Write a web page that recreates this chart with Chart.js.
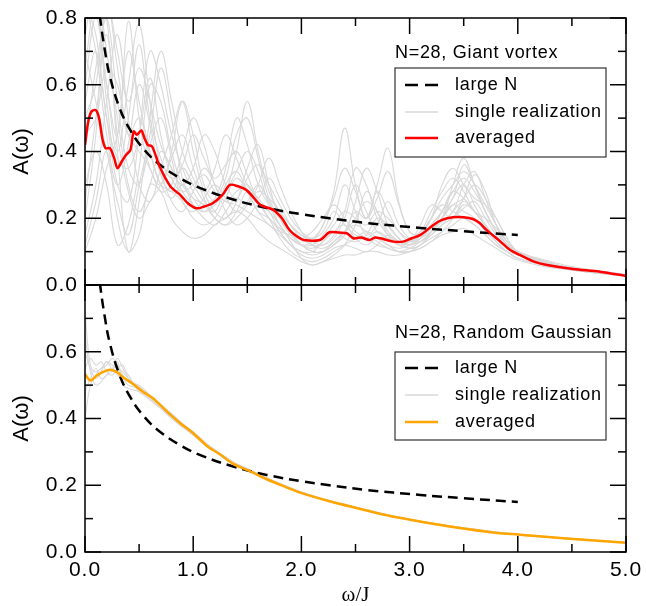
<!DOCTYPE html>
<html>
<head>
<meta charset="utf-8">
<script src="https://cdn.jsdelivr.net/npm/chart.js@4/dist/chart.umd.min.js"></script>
<style>
  html, body { margin: 0; padding: 0; background: #fff; }
  #wrap { position: relative; width: 646px; height: 606px; }
  canvas { position: absolute; left: 0; }
</style>
</head>
<body>
<div id="wrap">
  <canvas id="topChart" width="646" height="300" style="top:0"></canvas>
  <canvas id="bottomChart" width="646" height="326" style="top:280px"></canvas>
</div>
<script>
// ---- data ----
const xTicks = [0, 1, 2, 3, 4, 5]
const yTicks = [0, 0.2, 0.4, 0.6, 0.8]

// large N (same curve in both panels)
const largeNOmega = [0.10, 0.12, 0.14, 0.18, 0.23, 0.32, 0.42, 0.54, 0.69, 0.88, 1.06, 1.37, 1.68, 2.0, 2.26, 2.6, 3.1, 3.5, 4.0]
const largeNA =     [0.95, 0.866, 0.80, 0.71, 0.625, 0.53, 0.463, 0.408, 0.361, 0.32, 0.291, 0.256, 0.231, 0.212, 0.20, 0.186, 0.171, 0.161, 0.15]

// top panel: averaged (red)
const vortexAvgOmega = [0.00, 0.03, 0.06, 0.10, 0.13, 0.16, 0.19, 0.23, 0.27, 0.30, 0.34, 0.38, 0.42, 0.45, 0.48, 0.52, 0.55, 0.58, 0.62, 0.69, 0.79, 0.88, 0.95, 1.03, 1.10, 1.18, 1.27, 1.34, 1.42, 1.49, 1.55, 1.62, 1.74, 1.82, 1.89, 1.96, 2.02, 2.17, 2.26, 2.35, 2.42, 2.48, 2.55, 2.63, 2.68, 2.73, 2.85, 2.94, 3.02, 3.10, 3.22, 3.30, 3.40, 3.50, 3.59, 3.65, 3.71, 3.84, 3.93, 4.02, 4.15, 4.27, 4.51, 4.76, 5.00]
const vortexAvgA =     [0.42, 0.49, 0.52, 0.524, 0.50, 0.44, 0.41, 0.41, 0.38, 0.35, 0.37, 0.39, 0.405, 0.46, 0.45, 0.463, 0.44, 0.42, 0.415, 0.355, 0.295, 0.27, 0.245, 0.23, 0.235, 0.245, 0.27, 0.30, 0.295, 0.285, 0.265, 0.24, 0.225, 0.20, 0.165, 0.145, 0.135, 0.135, 0.158, 0.157, 0.155, 0.14, 0.142, 0.135, 0.142, 0.14, 0.13, 0.13, 0.14, 0.15, 0.18, 0.195, 0.203, 0.203, 0.197, 0.185, 0.165, 0.13, 0.105, 0.09, 0.07, 0.06, 0.048, 0.04, 0.027]

// top panel: single realizations (grey)
const vortexOmega = [0.0, 0.1, 0.2, 0.3, 0.4, 0.5, 0.6, 0.7, 0.8, 0.9, 1.0, 1.1, 1.2, 1.3, 1.4, 1.5, 1.6, 1.7, 1.8, 1.9, 2.0, 2.1, 2.2, 2.3, 2.4, 2.5, 2.6, 2.7, 2.8, 2.9, 3.0, 3.1, 3.2, 3.3, 3.4, 3.5, 3.6, 3.7, 3.8, 3.9, 4.0, 4.25, 4.5, 4.75, 5.0]
const vortexRuns = [
  [0.85,0.70,0.45,0.30,0.42,0.60,0.48,0.33,0.28,0.35,0.30,0.25,0.22,0.30,0.34,0.28,0.22,0.20,0.16,0.12,0.10,0.10,0.13,0.16,0.18,0.14,0.12,0.14,0.12,0.11,0.12,0.15,0.20,0.24,0.22,0.20,0.18,0.15,0.12,0.10,0.09,0.065,0.05,0.04,0.03],
  [0.40,0.65,0.80,0.55,0.35,0.30,0.42,0.50,0.38,0.25,0.22,0.26,0.30,0.26,0.22,0.25,0.30,0.25,0.18,0.14,0.12,0.12,0.15,0.20,0.30,0.22,0.15,0.18,0.25,0.18,0.14,0.13,0.16,0.20,0.26,0.30,0.24,0.18,0.13,0.10,0.08,0.06,0.05,0.04,0.03],
  [0.15,0.30,0.55,0.75,0.50,0.30,0.25,0.35,0.45,0.55,0.40,0.28,0.22,0.20,0.25,0.35,0.42,0.30,0.20,0.15,0.12,0.10,0.10,0.12,0.15,0.25,0.35,0.28,0.18,0.14,0.12,0.14,0.18,0.22,0.28,0.32,0.28,0.22,0.16,0.12,0.10,0.07,0.05,0.04,0.03],
  [0.60,0.80,0.60,0.40,0.60,0.78,0.55,0.35,0.25,0.22,0.28,0.35,0.30,0.22,0.18,0.20,0.24,0.22,0.16,0.12,0.09,0.08,0.09,0.11,0.12,0.11,0.10,0.12,0.15,0.13,0.11,0.12,0.15,0.18,0.20,0.23,0.25,0.20,0.15,0.11,0.09,0.06,0.045,0.035,0.028],
  [0.80,0.90,0.70,0.50,0.30,0.22,0.30,0.40,0.35,0.28,0.24,0.22,0.25,0.32,0.45,0.50,0.38,0.26,0.20,0.16,0.14,0.13,0.14,0.18,0.22,0.20,0.18,0.22,0.20,0.16,0.14,0.16,0.22,0.28,0.32,0.28,0.22,0.18,0.14,0.11,0.09,0.065,0.05,0.04,0.03],
  [0.30,0.40,0.30,0.12,0.18,0.35,0.60,0.55,0.40,0.30,0.26,0.24,0.20,0.18,0.22,0.28,0.25,0.20,0.14,0.10,0.08,0.07,0.08,0.10,0.12,0.14,0.16,0.14,0.12,0.10,0.10,0.12,0.14,0.16,0.18,0.20,0.18,0.15,0.12,0.10,0.08,0.06,0.045,0.035,0.027],
  [0.50,0.60,0.85,0.65,0.45,0.40,0.35,0.28,0.30,0.40,0.50,0.42,0.30,0.25,0.28,0.30,0.26,0.32,0.26,0.20,0.16,0.14,0.16,0.22,0.18,0.15,0.14,0.16,0.14,0.12,0.13,0.18,0.24,0.22,0.20,0.24,0.22,0.18,0.14,0.12,0.10,0.07,0.05,0.04,0.03],
  [0.10,0.20,0.35,0.45,0.70,0.55,0.40,0.30,0.28,0.25,0.20,0.18,0.20,0.26,0.32,0.28,0.22,0.18,0.16,0.15,0.14,0.16,0.20,0.24,0.20,0.16,0.14,0.12,0.11,0.10,0.11,0.13,0.16,0.20,0.24,0.26,0.30,0.26,0.20,0.14,0.10,0.07,0.05,0.04,0.03],
  [0.70,0.55,0.40,0.25,0.15,0.30,0.45,0.65,0.50,0.32,0.24,0.20,0.18,0.22,0.26,0.24,0.30,0.38,0.30,0.22,0.16,0.12,0.11,0.13,0.16,0.20,0.25,0.22,0.16,0.13,0.12,0.13,0.15,0.18,0.22,0.25,0.22,0.18,0.14,0.11,0.09,0.07,0.05,0.04,0.03],
  [0.85,0.75,0.50,0.38,0.35,0.45,0.62,0.45,0.32,0.28,0.30,0.33,0.28,0.25,0.24,0.22,0.20,0.18,0.15,0.12,0.10,0.09,0.10,0.13,0.16,0.18,0.16,0.13,0.11,0.10,0.10,0.11,0.13,0.16,0.20,0.26,0.33,0.28,0.18,0.12,0.10,0.07,0.05,0.04,0.03],
  [0.45,0.50,0.65,0.60,0.45,0.50,0.40,0.30,0.26,0.30,0.26,0.22,0.24,0.28,0.34,0.40,0.34,0.24,0.18,0.14,0.12,0.11,0.13,0.16,0.14,0.13,0.15,0.20,0.18,0.14,0.12,0.14,0.17,0.20,0.24,0.22,0.20,0.16,0.13,0.10,0.08,0.06,0.045,0.035,0.028],
  [0.25,0.50,0.75,0.45,0.28,0.20,0.25,0.30,0.38,0.45,0.35,0.26,0.20,0.18,0.20,0.24,0.28,0.26,0.22,0.18,0.15,0.13,0.12,0.14,0.20,0.30,0.22,0.16,0.14,0.13,0.14,0.16,0.20,0.26,0.30,0.34,0.30,0.22,0.16,0.12,0.09,0.065,0.05,0.04,0.03],
  [0.12,0.25,0.40,0.20,0.10,0.15,0.30,0.28,0.20,0.16,0.14,0.15,0.18,0.20,0.22,0.20,0.16,0.13,0.11,0.09,0.07,0.06,0.07,0.08,0.09,0.09,0.10,0.10,0.09,0.09,0.10,0.11,0.13,0.15,0.16,0.17,0.15,0.13,0.11,0.09,0.075,0.055,0.045,0.035,0.027],
  [0.65,0.85,0.55,0.35,0.50,0.72,0.50,0.38,0.32,0.36,0.45,0.38,0.32,0.36,0.40,0.33,0.25,0.20,0.17,0.14,0.12,0.13,0.18,0.26,0.35,0.28,0.20,0.26,0.34,0.24,0.16,0.15,0.18,0.22,0.26,0.36,0.30,0.24,0.18,0.13,0.10,0.075,0.055,0.042,0.032],
  [0.90,0.85,0.60,0.45,0.79,0.50,0.35,0.30,0.40,0.55,0.45,0.30,0.25,0.28,0.40,0.55,0.40,0.28,0.22,0.18,0.15,0.14,0.18,0.28,0.47,0.30,0.20,0.30,0.41,0.25,0.16,0.15,0.17,0.20,0.30,0.38,0.30,0.22,0.16,0.12,0.09,0.07,0.05,0.04,0.03],
  [0.75,0.90,0.80,0.40,0.10,0.25,0.50,0.70,0.55,0.40,0.32,0.28,0.35,0.45,0.38,0.30,0.26,0.22,0.18,0.13,0.08,0.06,0.07,0.09,0.12,0.18,0.28,0.22,0.15,0.12,0.11,0.12,0.16,0.22,0.28,0.26,0.22,0.20,0.17,0.13,0.10,0.07,0.05,0.04,0.03],
  [0.20,0.45,0.85,0.70,0.55,0.65,0.55,0.42,0.35,0.30,0.35,0.45,0.40,0.30,0.26,0.32,0.36,0.30,0.24,0.18,0.14,0.12,0.12,0.15,0.22,0.35,0.30,0.20,0.15,0.13,0.13,0.15,0.20,0.30,0.35,0.30,0.26,0.24,0.20,0.14,0.10,0.07,0.05,0.04,0.03],
  [0.55,0.70,0.50,0.30,0.25,0.45,0.70,0.60,0.45,0.35,0.28,0.24,0.26,0.35,0.50,0.42,0.30,0.24,0.20,0.16,0.12,0.10,0.10,0.12,0.16,0.22,0.20,0.28,0.22,0.16,0.13,0.14,0.16,0.19,0.22,0.30,0.34,0.26,0.18,0.13,0.10,0.07,0.05,0.04,0.03]
]

// bottom panel: averaged (orange)
const gaussAvgOmega = [0.00, 0.05, 0.11, 0.17, 0.23, 0.30, 0.35, 0.44, 0.54, 0.63, 0.76, 0.88, 1.00, 1.13, 1.25, 1.37, 1.52, 1.68, 1.83, 1.99, 2.26, 2.48, 2.79, 3.00, 3.40, 3.81, 4.02, 4.48, 5.00]
const gaussAvgA =     [0.533, 0.514, 0.529, 0.54, 0.546, 0.538, 0.524, 0.504, 0.479, 0.46, 0.42, 0.386, 0.356, 0.317, 0.292, 0.264, 0.243, 0.218, 0.198, 0.178, 0.152, 0.134, 0.11, 0.097, 0.075, 0.057, 0.052, 0.04, 0.028]

// bottom panel: single realizations (grey)
const gaussOmega = [0, 0.05, 0.1, 0.15, 0.2, 0.25, 0.3, 0.35, 0.4, 0.5, 0.6, 0.8, 1.0, 1.25, 1.5, 2, 2.5, 3, 3.5, 4, 4.5, 5]
const gaussRuns = [
  [0.72,0.56,0.54,0.55,0.57,0.56,0.55,0.54,0.52,0.49,0.47,0.41,0.36,0.29,0.245,0.178,0.133,0.097,0.072,0.052,0.04,0.028],
  [0.40,0.50,0.53,0.55,0.56,0.58,0.56,0.53,0.51,0.50,0.47,0.415,0.355,0.295,0.247,0.18,0.134,0.098,0.072,0.052,0.04,0.028],
  [0.60,0.55,0.52,0.54,0.57,0.55,0.58,0.55,0.53,0.48,0.46,0.40,0.35,0.29,0.243,0.176,0.132,0.096,0.071,0.051,0.04,0.028],
  [0.48,0.52,0.55,0.52,0.53,0.55,0.53,0.52,0.50,0.49,0.47,0.405,0.36,0.29,0.25,0.18,0.135,0.097,0.073,0.053,0.04,0.028],
  [0.55,0.58,0.56,0.57,0.54,0.53,0.55,0.56,0.52,0.495,0.465,0.41,0.357,0.293,0.246,0.177,0.133,0.097,0.072,0.052,0.04,0.028],
  [0.65,0.54,0.50,0.51,0.53,0.54,0.57,0.50,0.49,0.48,0.455,0.405,0.352,0.29,0.244,0.178,0.134,0.098,0.072,0.052,0.04,0.028]
]

// ---- helpers ----
const pts = (xs, ys) => xs.map((x, i) => ({ x, y: ys[i] }))
const GREY = '#d9d9d9'
const FONT = "'Liberation Sans', Arial, sans-serif"

function line(ctx, x1, y1, x2, y2) {
  ctx.beginPath(); ctx.moveTo(x1, y1); ctx.lineTo(x2, y2); ctx.stroke()
}

// frame, inward ticks, tick labels, axis titles, legend
const framePlugin = {
  id: 'frame',
  afterDraw(chart, args, o) {
    const { ctx, chartArea: a, scales: { x, y } } = chart
    ctx.save()
    ctx.strokeStyle = '#000'
    ctx.lineWidth = 1.5
    ctx.strokeRect(a.left, a.top, a.right - a.left, a.bottom - a.top)

    for (let i = 0; i <= 10; i++) {
      const px = x.getPixelForValue(i * 0.5)
      const len = i % 2 === 0 ? 16 : 8
      line(ctx, px, a.top, px, a.top + len)
      line(ctx, px, a.bottom, px, a.bottom - len)
    }
    for (let i = 0; i <= 8; i++) {
      const py = y.getPixelForValue(i * 0.1)
      const len = i % 2 === 0 ? 16 : 8
      line(ctx, a.left, py, a.left + len, py)
      line(ctx, a.right, py, a.right - len, py)
    }

    ctx.fillStyle = '#000'
    ctx.font = '21px ' + FONT
    ctx.letterSpacing = '1px'
    ctx.textAlign = 'right'
    ctx.textBaseline = 'middle'
    yTicks.forEach(v => {
      if (o.hideTopY && v === 0.8) return
      ctx.fillText(v.toFixed(1), a.left - 7, y.getPixelForValue(v))
    })
    if (o.xLabels) {
      ctx.textAlign = 'center'
      xTicks.forEach(v => ctx.fillText(v.toFixed(1), x.getPixelForValue(v), a.bottom + 18))
      ctx.letterSpacing = '0px'
      ctx.font = "21px 'Liberation Serif', 'DejaVu Serif', serif"
      ctx.fillText('ω/J', (a.left + a.right) / 2, a.bottom + 43)
    }

    ctx.letterSpacing = '0px'
    ctx.font = '22px ' + FONT
    ctx.save()
    ctx.translate(22, (a.top + a.bottom) / 2)
    ctx.rotate(-Math.PI / 2)
    ctx.textAlign = 'center'
    ctx.fillText('A(ω)', 0, 0)
    ctx.restore()

    // legend
    const L = o.legend
    ctx.font = '18px ' + FONT
    ctx.letterSpacing = '0.7px'
    ctx.textAlign = 'left'
    ctx.fillText(L.title, 395, L.titleY)
    ctx.lineWidth = 1.2
    ctx.strokeStyle = '#333'
    ctx.strokeRect(395, L.boxTop, 211, L.boxH)
    const rows = [
      { text: 'large N', color: '#000', dash: [13, 7], w: 2.5 },
      { text: 'single realization', color: GREY, dash: [], w: 1.5 },
      { text: 'averaged', color: L.avgColor, dash: [], w: 2.5 }
    ]
    rows.forEach((r, i) => {
      const ry = L.rowY[i]
      ctx.strokeStyle = r.color
      ctx.lineWidth = r.w
      ctx.setLineDash(r.dash)
      line(ctx, 405, ry, 438, ry)
      ctx.setLineDash([])
      ctx.fillText(r.text, 455, ry)
    })
    ctx.restore()
  }
}

function makeDatasets(runsOmega, runs, avgOmega, avgA, avgColor) {
  const ds = [
    { data: pts(avgOmega, avgA), borderColor: avgColor, borderWidth: 2.5, tension: 0.3, order: 0 },
    { data: pts(largeNOmega, largeNA), borderColor: '#000', borderWidth: 2.5, borderDash: [10, 6], tension: 0.4, order: 1 }
  ]
  runs.forEach(r => ds.push({ data: pts(runsOmega, r), borderColor: GREY, borderWidth: 1.1, tension: 0.4, order: 2 }))
  ds.forEach(d => { d.pointRadius = 0; d.fill = false; d.clip = 0 })
  return ds
}

function makeChart(id, datasets, padding, frameOpts) {
  return new Chart(document.getElementById(id), {
    type: 'line',
    data: { datasets },
    options: {
      responsive: false,
      animation: false,
      layout: { padding },
      scales: {
        x: { type: 'linear', min: 0, max: 5, display: false },
        y: { type: 'linear', min: 0, max: 0.8, display: false }
      },
      plugins: { legend: { display: false }, tooltip: { enabled: false }, frame: frameOpts }
    },
    plugins: [framePlugin]
  })
}

makeChart('topChart',
  makeDatasets(vortexOmega, vortexRuns, vortexAvgOmega, vortexAvgA, '#ff0000'),
  { left: 85, right: 20, top: 18, bottom: 15 },
  { xLabels: false, hideTopY: false,
    legend: { title: 'N=28, Giant vortex', titleY: 53, boxTop: 68, boxH: 89, rowY: [85, 112, 138], avgColor: '#ff0000' } })

makeChart('bottomChart',
  makeDatasets(gaussOmega, gaussRuns, gaussAvgOmega, gaussAvgA, '#ffa500'),
  { left: 85, right: 20, top: 5, bottom: 54 },
  { xLabels: true, hideTopY: true,
    legend: { title: 'N=28, Random Gaussian', titleY: 53, boxTop: 72, boxH: 88, rowY: [88, 115, 142], avgColor: '#ffa500' } })
</script>
</body>
</html>
